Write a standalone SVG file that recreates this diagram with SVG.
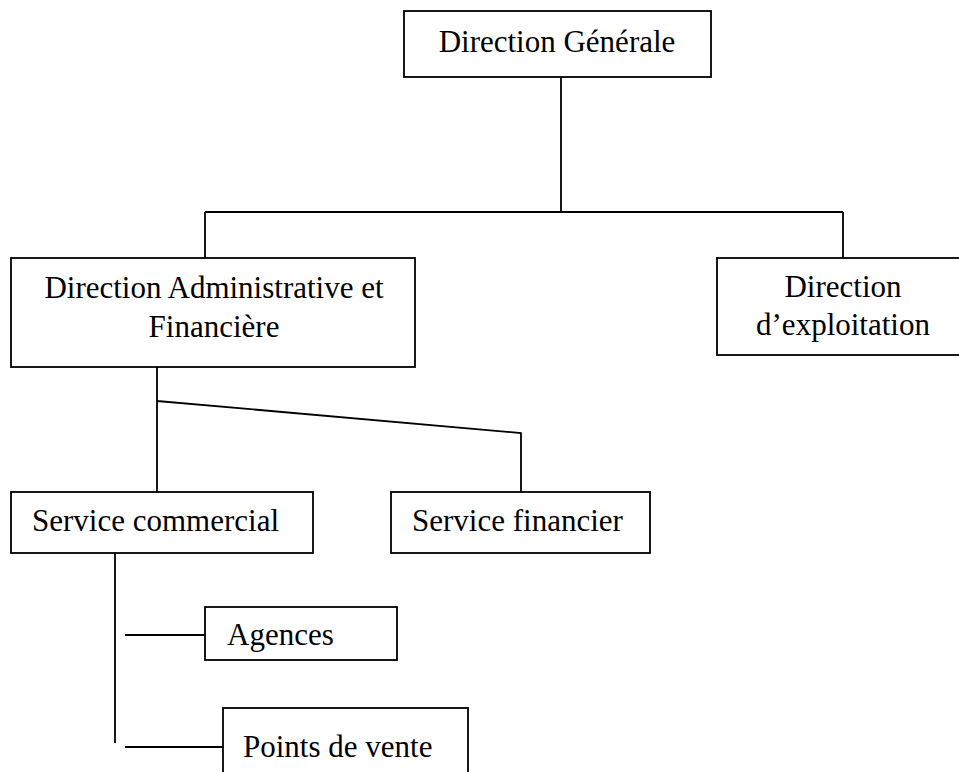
<svg xmlns="http://www.w3.org/2000/svg" width="959" height="772" viewBox="0 0 959 772">
<style>
.box{fill:#fff;stroke:#000;stroke-width:1.8}
.t{font-family:"Liberation Serif","Times New Roman",serif;font-size:31px;fill:#000}
.c{text-anchor:middle}
.ln{fill:none;stroke:#000;stroke-width:1.8}
</style>
<rect width="959" height="772" fill="#fff"/>
<g id="connectors">
<path class="ln" d="M561 77V212M205 212H843M205 212V258M843 212V258"/>
<path class="ln" d="M157 367V492M157 401L521 433V492"/>
<path class="ln" d="M115 553V743M125 635H205M125 747H223"/>
</g>
<g id="n-dg">
<rect class="box" x="404" y="11" width="307" height="66"/>
<text class="t c" x="557" y="52">Direction Générale</text>
</g>
<g id="n-daf">
<rect class="box" x="11" y="258" width="404" height="109"/>
<text class="t c" x="214" y="298">Direction Administrative et</text>
<text class="t c" x="214" y="337">Financière</text>
</g>
<g id="n-dexp">
<rect class="box" x="717" y="258" width="252" height="97"/>
<text class="t c" x="843" y="297">Direction</text>
<text class="t c" x="843" y="335">d’exploitation</text>
</g>
<g id="n-sc">
<rect class="box" x="11" y="492" width="302" height="61"/>
<text class="t" x="32" y="531">Service commercial</text>
</g>
<g id="n-sf">
<rect class="box" x="391" y="492" width="259" height="61"/>
<text class="t" x="412" y="531">Service financier</text>
</g>
<g id="n-ag">
<rect class="box" x="205" y="607" width="192" height="53"/>
<text class="t" x="227" y="645">Agences</text>
</g>
<g id="n-pv">
<rect class="box" x="223" y="708" width="245" height="90"/>
<text class="t" x="243" y="757">Points de vente</text>
</g>
</svg>
